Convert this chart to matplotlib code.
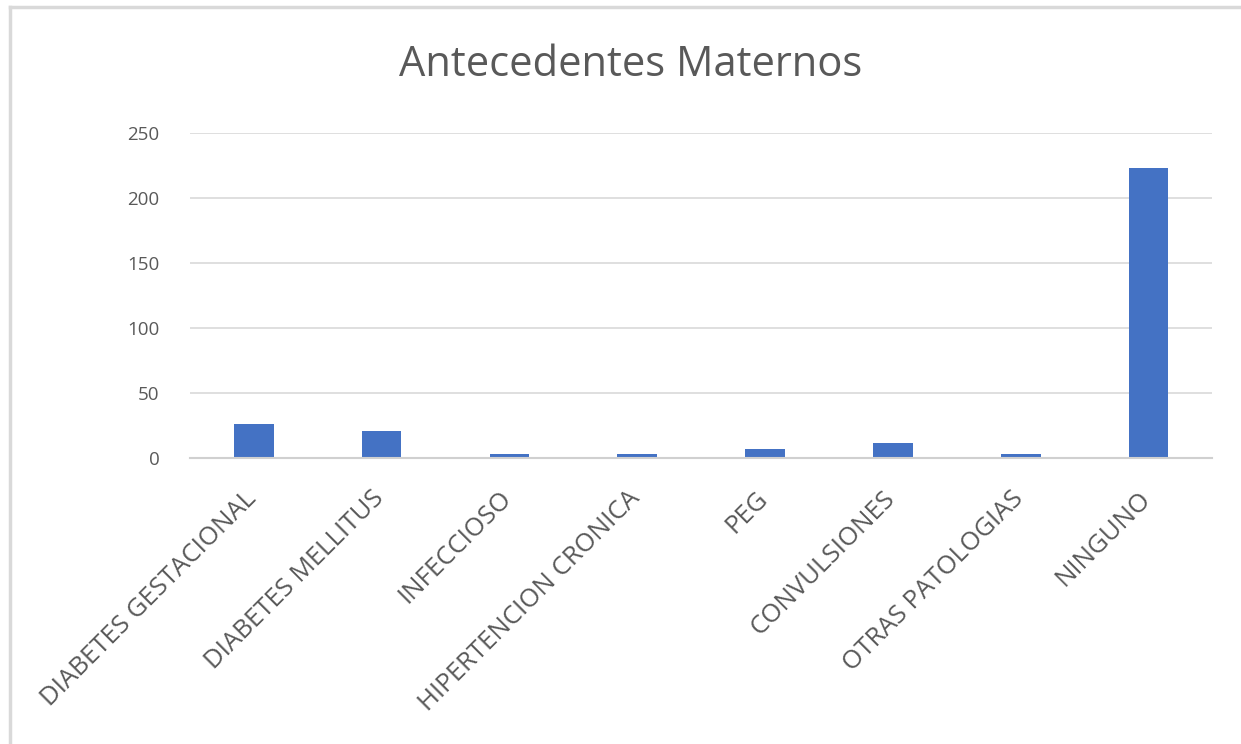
import matplotlib.pyplot as plt
import matplotlib.transforms as mtransforms
from matplotlib.lines import Line2D

# Antecedentes maternos: conteo de casos por categoria
categorias = ['DIABETES GESTACIONAL', 'DIABETES MELLITUS', 'INFECCIOSO',
              'HIPERTENCION CRONICA', 'PEG', 'CONVULSIONES',
              'OTRAS PATOLOGIAS', 'NINGUNO']
casos = [26, 21, 3, 3, 7, 12, 3, 223]
marcas_y = [0, 50, 100, 150, 200, 250]

plt.rcParams['font.family'] = ['Open Sans', 'DejaVu Sans']

fig = plt.figure(figsize=(12.41, 7.44), dpi=100)
ax = fig.add_axes([0.153, 0.384, 0.824, 0.437])

x = range(len(categorias))
ax.bar(x, casos, width=0.31, color='#4472C4', zorder=3)

ax.set_xlim(-0.5, len(categorias) - 0.5)
ax.set_ylim(0, 250)
ax.set_yticks(marcas_y)
ax.set_xticks(list(x))
ax.set_xticklabels(categorias, rotation=45, ha='right', rotation_mode='anchor',
                   fontsize=18.5, color='#595959')
ax.tick_params(axis='y', labelsize=13.5, labelcolor='#595959', length=0, pad=22)
ax.tick_params(axis='x', length=0, pad=20)

# desplazar un poco las etiquetas inclinadas hacia la izquierda
desplazamiento = mtransforms.ScaledTranslation(-10 / 100, 0, fig.dpi_scale_trans)
for etiqueta in ax.get_xticklabels():
    etiqueta.set_transform(etiqueta.get_transform() + desplazamiento)

ax.grid(axis='y', color='#D9D9D9', linewidth=1.2, zorder=0)
for lado in ['top', 'right', 'left']:
    ax.spines[lado].set_visible(False)
ax.spines['bottom'].set_color('#D0D0D0')
ax.spines['bottom'].set_linewidth(1.5)
ax.spines['bottom'].set_zorder(4)

fig.text(0.508, 0.912, 'Antecedentes Maternos', ha='center', va='center',
         fontsize=30, color='#595959')

# borde superior e izquierdo del area del grafico
fig.add_artist(Line2D([0.008, 1.0], [0.991, 0.991], transform=fig.transFigure,
                      color='#D9D9D9', linewidth=2.5))
fig.add_artist(Line2D([0.008, 0.008], [0.0, 0.991], transform=fig.transFigure,
                      color='#D9D9D9', linewidth=2.5))

fig.savefig('out.png', dpi=100, facecolor='white')
